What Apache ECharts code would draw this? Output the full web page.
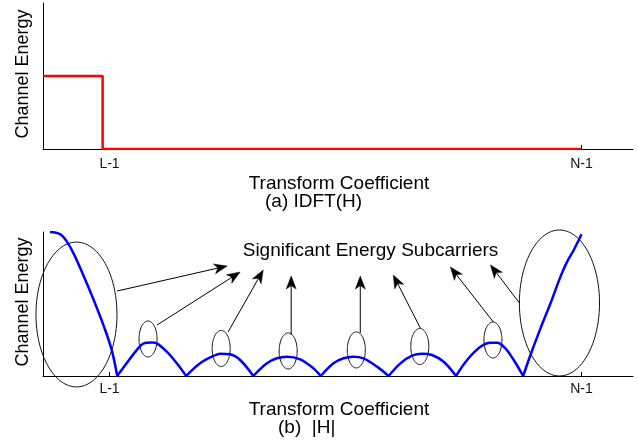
<!DOCTYPE html>
<html>
<head>
<meta charset="utf-8">
<script src="https://cdn.jsdelivr.net/npm/echarts@6/dist/echarts.min.js"></script>
<style>
  html, body { margin: 0; padding: 0; background: #fff; }
  #chart { width: 638px; height: 443px; }
</style>
</head>
<body>
<div id="chart"></div>
<script>
// Transform coefficient axis (shared by both panels)
const xMin = 0.25;
const xMax = 69;
const tickValues = [8, 63];
const tickLabels = ['L-1', 'N-1'];

// (a) IDFT(H): channel energy concentrated in the first L taps
const idftX = [0.25, 7.2, 7.2, 63];
const idftY = [0.5, 0.5, 0, 0];

// (b) |H|: magnitude response over the coefficients
const magX = [1.06, 2.23, 3.01, 3.78, 4.95, 6.11, 7.28, 8.26, 8.90,
  9.99, 11.17, 11.94, 12.97, 13.50, 14.67, 15.84, 16.93,
  18.56, 20.11, 20.89, 22.05, 23.22, 24.76,
  26.34, 27.50, 28.67, 30.22, 31.77, 32.62,
  34.10, 35.27, 36.44, 37.60, 39.17, 40.52,
  41.90, 43.25, 44.42, 45.58, 46.94, 48.38,
  49.67, 51.22, 52.38, 53.17, 54.13, 55.10, 56.20,
  57.05, 58.22, 59.39, 60.55, 61.33, 62.10, 63.00];
const magY = [1.00, 0.985, 0.935, 0.855, 0.70, 0.535, 0.355, 0.18, 0,
  0.088, 0.18, 0.225, 0.232, 0.227, 0.169, 0.088, 0,
  0.088, 0.139, 0.155, 0.151, 0.111, 0,
  0.088, 0.123, 0.134, 0.116, 0.053, 0,
  0.088, 0.123, 0.134, 0.123, 0.065, 0,
  0.088, 0.141, 0.155, 0.146, 0.099, 0,
  0.111, 0.203, 0.231, 0.231, 0.192, 0.111, 0,
  0.146, 0.331, 0.505, 0.69, 0.794, 0.875, 0.984];

// Ellipses marking the significant-energy regions: [cx, cy, rx, ry]
const ellipseCx = [4.15, 12.49, 21.01, 28.82, 36.76, 44.16, 52.68, 60.43];
const ellipseCy = [0.427, 0.257, 0.191, 0.174, 0.181, 0.205, 0.25, 0.507];
const ellipseRx = [4.72, 1.05, 1.05, 1.05, 1.05, 1.05, 1.05, 4.67];
const ellipseRy = [0.503, 0.125, 0.125, 0.125, 0.125, 0.125, 0.125, 0.507];

// Arrows from each ellipse to the caption: tail (x1,y1) -> head (x2,y2)
const arrowX1 = [8.88, 13.54, 21.82, 29.17, 37.22, 44.22, 52.73, 55.77];
const arrowY1 = [0.59, 0.354, 0.306, 0.285, 0.299, 0.333, 0.375, 0.507];
const arrowX2 = [21.71, 23.22, 25.91, 29.17, 37.22, 41.07, 47.72, 52.39];
const arrowY2 = [0.764, 0.722, 0.736, 0.694, 0.694, 0.701, 0.757, 0.771];

const FONT = "'Liberation Sans', Arial, sans-serif";

function zip(a, b) { return a.map((v, i) => [v, b[i]]); }

// Split |H| into lobes at its nulls so each lobe is smoothed on its own
// while the nulls keep their sharp cusps.
function lobes(xs, ys) {
  const out = [];
  let cur = [];
  xs.forEach((x, i) => {
    cur.push([x, ys[i]]);
    if (ys[i] === 0 && i > 0 && i < xs.length - 1) {
      out.push(cur);
      cur = [[x, ys[i]]];
    }
  });
  if (cur.length > 1) out.push(cur);
  return out;
}

function xAxisFor(gridIndex, tickMarks, labelMargin) {
  return {
    type: 'value', gridIndex: gridIndex, min: xMin, max: xMax,
    axisLine: { show: true, lineStyle: { color: '#000', width: 1 } },
    splitLine: { show: false },
    axisTick: { show: true, inside: true, length: 4, customValues: tickMarks,
      lineStyle: { color: '#000', width: 1 } },
    axisLabel: {
      show: true, customValues: tickValues, margin: labelMargin,
      fontFamily: FONT, fontSize: 14, color: '#111',
      formatter: v => tickLabels[tickValues.indexOf(v)]
    }
  };
}
function yAxisFor(gridIndex) {
  return {
    type: 'value', gridIndex: gridIndex, min: 0, max: 1,
    axisLine: { show: true, onZero: false, lineStyle: { color: '#000', width: 1 } },
    axisTick: { show: false }, axisLabel: { show: false }, splitLine: { show: false }
  };
}

function renderEllipse(params, api) {
  const c = api.coord([api.value(0), api.value(1)]);
  const s = api.size([api.value(2), api.value(3)]);
  const pts = [];
  for (let i = 0; i < 96; i++) {
    const t = i / 96 * Math.PI * 2;
    pts.push([c[0] + s[0] * Math.cos(t), c[1] + s[1] * Math.sin(t)]);
  }
  return { type: 'polygon', shape: { points: pts },
    style: { fill: 'none', stroke: '#111', lineWidth: 1 } };
}

function renderArrow(params, api) {
  const p1 = api.coord([api.value(0), api.value(1)]);
  const p2 = api.coord([api.value(2), api.value(3)]);
  const dx = p2[0] - p1[0], dy = p2[1] - p1[1];
  const len = Math.sqrt(dx * dx + dy * dy);
  const ux = dx / len, uy = dy / len;
  const nx = -uy, ny = ux;
  const L = 13, W = 5, notch = 3.5;
  const bx = p2[0] - ux * L, by = p2[1] - uy * L;
  const mx = p2[0] - ux * (L - notch), my = p2[1] - uy * (L - notch);
  return {
    type: 'group',
    children: [
      { type: 'line', shape: { x1: p1[0], y1: p1[1], x2: mx, y2: my },
        style: { stroke: '#000', lineWidth: 1 } },
      { type: 'polygon', shape: { points: [[p2[0], p2[1]], [bx + nx * W, by + ny * W], [mx, my], [bx - nx * W, by - ny * W]] },
        style: { fill: '#000', stroke: '#000', lineWidth: 0.5 } }
    ]
  };
}

function text(str, x, y, opts) {
  return Object.assign({
    type: 'text', x: x, y: y,
    style: { text: str, fontFamily: FONT, fontSize: 19, fill: '#000',
      align: 'center', verticalAlign: 'middle' }
  }, opts || {});
}

const magSeries = lobes(magX, magY).map(seg => ({
  type: 'line', xAxisIndex: 1, yAxisIndex: 1, data: seg,
  showSymbol: false, smooth: 0.35, z: 5,
  lineStyle: { color: '#0000ff', width: 2.5, join: 'round' }
}));

const chart = echarts.init(document.getElementById('chart'), null, { renderer: 'canvas' });
chart.setOption({
  animation: false,
  backgroundColor: '#fff',
  grid: [
    { left: 43, top: 3, width: 590, height: 146 },
    { left: 43, top: 232, width: 590, height: 144 }
  ],
  xAxis: [xAxisFor(0, [63], 8), xAxisFor(1, tickValues, 6)],
  yAxis: [yAxisFor(0), yAxisFor(1)],
  series: [
    { type: 'line', xAxisIndex: 0, yAxisIndex: 0, data: zip(idftX, idftY),
      showSymbol: false, z: 5, lineStyle: { color: '#ff0000', width: 2.5 } }
  ].concat(magSeries, [
    { type: 'custom', xAxisIndex: 1, yAxisIndex: 1, z: 3, clip: false,
      data: ellipseCx.map((v, i) => [v, ellipseCy[i], ellipseRx[i], ellipseRy[i]]),
      renderItem: renderEllipse },
    { type: 'custom', xAxisIndex: 1, yAxisIndex: 1, z: 3, clip: false,
      data: arrowX1.map((v, i) => [v, arrowY1[i], arrowX2[i], arrowY2[i]]),
      renderItem: renderArrow }
  ]),
  graphic: [
    text('Channel Energy', 23, 74, { rotation: Math.PI / 2, style: { text: 'Channel Energy', fontFamily: FONT, fontSize: 18, fill: '#000', align: 'center', verticalAlign: 'middle' } }),
    text('Transform Coefficient', 339, 184),
    text('(a) IDFT(H)', 265, 202, { style: { text: '(a) IDFT(H)', fontFamily: FONT, fontSize: 19, fill: '#000', align: 'left', verticalAlign: 'middle' } }),
    text('Channel Energy', 23, 302, { rotation: Math.PI / 2, style: { text: 'Channel Energy', fontFamily: FONT, fontSize: 18, fill: '#000', align: 'center', verticalAlign: 'middle' } }),
    text('Transform Coefficient', 339, 410),
    text('(b)  |H|', 278, 428, { style: { text: '(b)  |H|', fontFamily: FONT, fontSize: 19, fill: '#000', align: 'left', verticalAlign: 'middle' } }),
    text('Significant Energy Subcarriers', 370.5, 251)
  ]
});
</script>
</body>
</html>
